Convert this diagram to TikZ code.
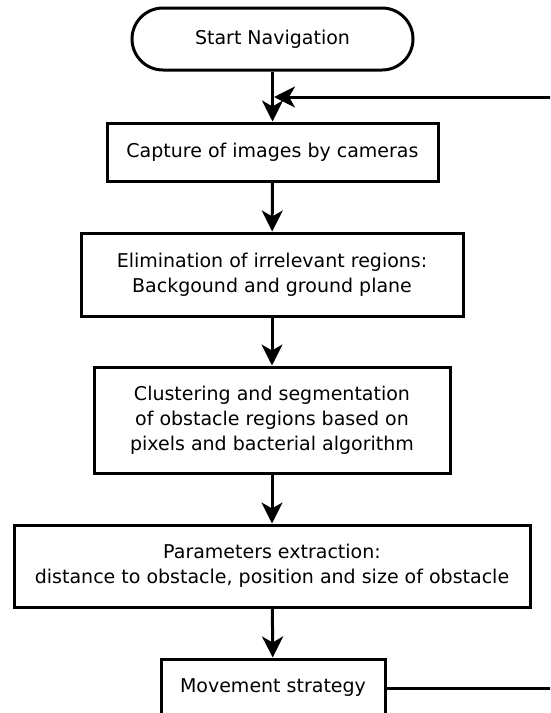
\documentclass[tikz,border=0pt]{standalone}
\usepackage{fontspec}
\setmainfont{DejaVu Sans}
\usetikzlibrary{arrows.meta, calc}

\begin{document}
\begin{tikzpicture}[x=1pt,y=-1pt,
  every node/.style={draw,line width=3pt,align=center,inner sep=0pt,font=\fontsize{19}{25}\selectfont},
  terminal/.style={rounded corners=31pt,minimum width=281pt,minimum height=62pt},
  arr/.style={line width=3pt,-{Stealth[length=21pt,width=21pt,inset=6pt]}}]
  \useasboundingbox (0,0) rectangle (550,713);
  \clip (0,0) rectangle (550,713);
  \path (272.5,39) node[terminal] (start) {Start Navigation}
  (272.5,152) node[minimum width=331pt,minimum height=58pt] (capture) {Capture of images by cameras}
  (272,274.5) node[minimum width=382pt,minimum height=83pt] (elim) {Elimination of irrelevant regions:\\Backgound and ground plane}
  (272,420) node[minimum width=356pt,minimum height=106pt] (cluster) {Clustering and segmentation\\of obstacle regions based on\\pixels and bacterial algorithm}
  (272,566) node[minimum width=516pt,minimum height=82pt] (params) {Parameters extraction:\\distance to obstacle, position and size of obstacle}
  (273,688) node[minimum width=224pt,minimum height=58pt] (move) {Movement strategy};
  \coordinate (back) at (600,688);
  \coordinate (top) at (600,97);
  \coordinate (join) at (274,97);
  \draw[arr] (start) -- (capture);
  \draw[arr] (capture) -- (elim);
  \draw[arr] (elim) -- (cluster);
  \draw[arr] (cluster) -- (params);
  \draw[arr] (params) -- (move);
  \draw[arr] (move.east) -- (back) -- (top) -- (join);
\end{tikzpicture}
\end{document}
